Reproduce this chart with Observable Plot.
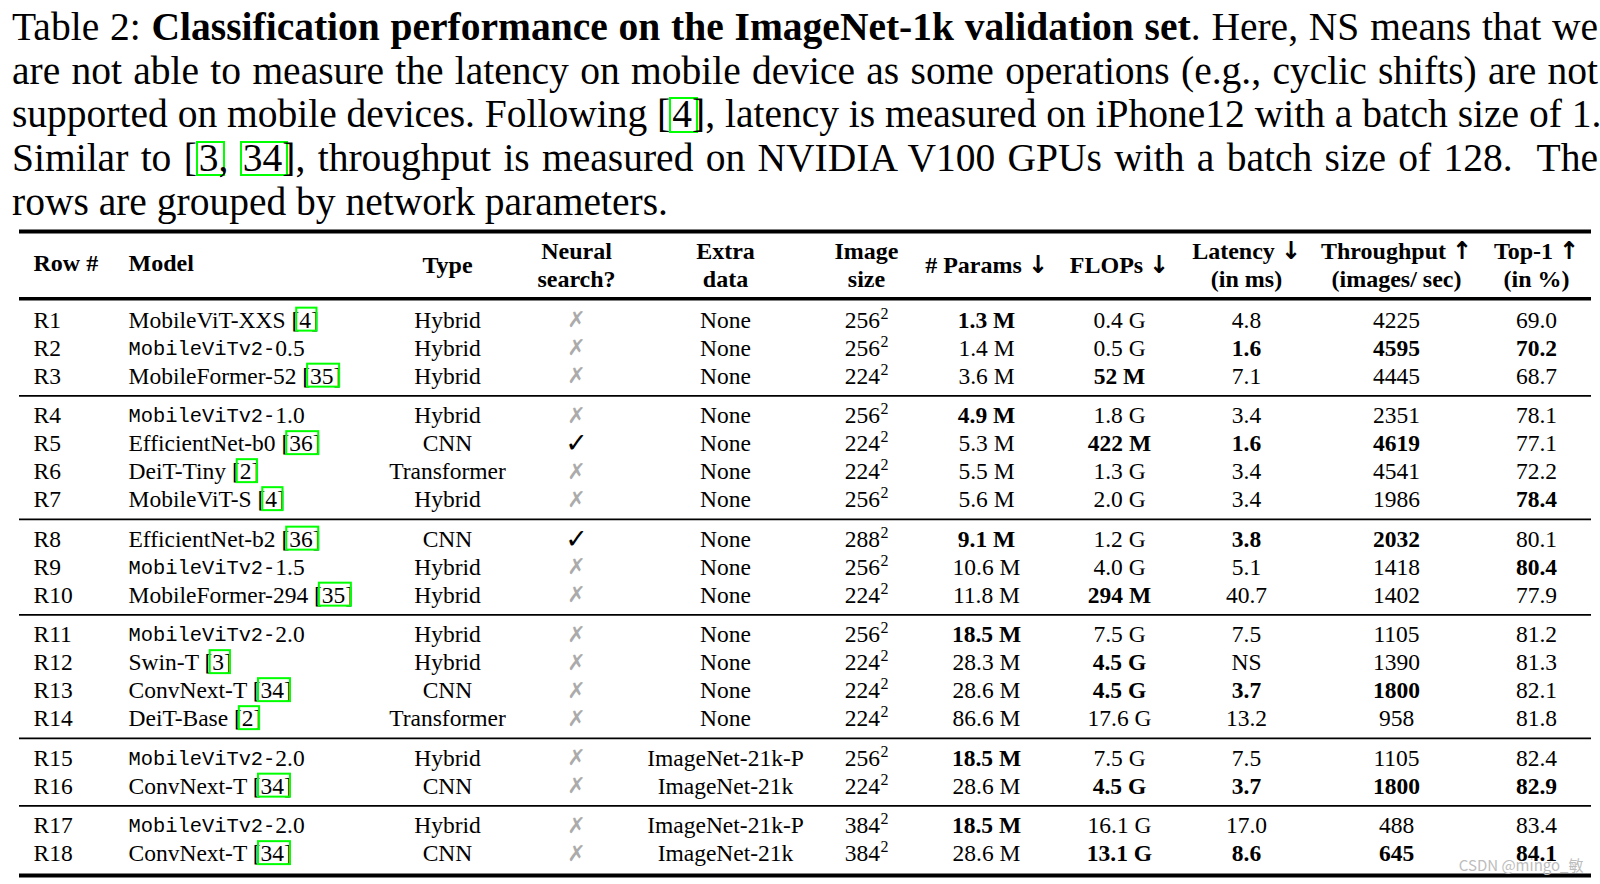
<!DOCTYPE html>
<html><head><meta charset="utf-8">
<script src="https://cdn.jsdelivr.net/npm/d3@7"></script>
<script src="https://cdn.jsdelivr.net/npm/@observablehq/plot@0.6"></script>
<style>
@font-face{font-family:"HdrArrows";src:local("DejaVu Sans Bold"),local("DejaVuSans-Bold");font-weight:100 900;unicode-range:U+2190-21FF;}
html,body{margin:0;padding:0;background:#fff;}
#caption{height:222px;padding-top:6px;padding-left:12px;box-sizing:border-box;font-family:"Liberation Serif","Times New Roman",serif;font-size:39.5px;line-height:43.7px;color:#000;}
.line{width:1586px;white-space:nowrap;text-align:justify;text-align-last:justify;}
.line.last{text-align-last:left;}
.cite{display:inline-block;line-height:33.3px;outline:2.5px solid #00ff00;outline-offset:-1.25px;padding:0 5px 0 2px;margin-right:-5px;}
#chart svg{display:block;}
</style></head>
<body>
<div id="caption">
<div class="line">Table 2: <b>Classification performance on the ImageNet-1k validation set</b>. Here, NS means that we</div>
<div class="line">are not able to measure the latency on mobile device as some operations (e.g., cyclic shifts) are not</div>
<div class="line">supported on mobile devices. Following [<span class="cite">4</span>], latency is measured on iPhone12 with a batch size of 1.</div>
<div class="line">Similar to [<span class="cite">3</span>, <span class="cite">34</span>], throughput is measured on NVIDIA V100 GPUs with a batch size of 128.&nbsp; The</div>
<div class="line last">rows are grouped by network parameters.</div>
</div>
<div id="chart"></div>
<script>
// ---------- data ----------
const rowIds = ["R1","R2","R3","R4","R5","R6","R7","R8","R9","R10","R11","R12","R13","R14","R15","R16","R17","R18"];
const groups = [0,0,0,1,1,1,1,2,2,2,3,3,3,3,4,4,5,5];
const models = ["MobileViT-XXS [4]","MobileViTv2-0.5","MobileFormer-52 [35]","MobileViTv2-1.0","EfficientNet-b0 [36]","DeiT-Tiny [2]","MobileViT-S [4]","EfficientNet-b2 [36]","MobileViTv2-1.5","MobileFormer-294 [35]","MobileViTv2-2.0","Swin-T [3]","ConvNext-T [34]","DeiT-Base [2]","MobileViTv2-2.0","ConvNext-T [34]","MobileViTv2-2.0","ConvNext-T [34]"];
const types = ["Hybrid","Hybrid","Hybrid","Hybrid","CNN","Transformer","Hybrid","CNN","Hybrid","Hybrid","Hybrid","Hybrid","CNN","Transformer","Hybrid","CNN","Hybrid","CNN"];
const neuralSearch = [0,0,0,0,1,0,0,1,0,0,0,0,0,0,0,0,0,0];
const extraData = ["None","None","None","None","None","None","None","None","None","None","None","None","None","None","ImageNet-21k-P","ImageNet-21k","ImageNet-21k-P","ImageNet-21k"];
const imageSizes = [256,256,224,256,224,224,256,288,256,224,256,224,224,224,256,224,384,384];
const params = ["1.3 M","1.4 M","3.6 M","4.9 M","5.3 M","5.5 M","5.6 M","9.1 M","10.6 M","11.8 M","18.5 M","28.3 M","28.6 M","86.6 M","18.5 M","28.6 M","18.5 M","28.6 M"];
const paramsBold = [1,0,0,1,0,0,0,1,0,0,1,0,0,0,1,0,1,0];
const flops = ["0.4 G","0.5 G","52 M","1.8 G","422 M","1.3 G","2.0 G","1.2 G","4.0 G","294 M","7.5 G","4.5 G","4.5 G","17.6 G","7.5 G","4.5 G","16.1 G","13.1 G"];
const flopsBold = [0,0,1,0,1,0,0,0,0,1,0,1,1,0,0,1,0,1];
const latency = ["4.8","1.6","7.1","3.4","1.6","3.4","3.4","3.8","5.1","40.7","7.5","NS","3.7","13.2","7.5","3.7","17.0","8.6"];
const latencyBold = [0,1,0,0,1,0,0,1,0,0,0,0,1,0,0,1,0,1];
const throughput = [4225,4595,4445,2351,4619,4541,1986,2032,1418,1402,1105,1390,1800,958,1105,1800,488,645];
const throughputBold = [0,1,0,0,1,0,0,1,0,0,0,0,1,0,0,1,0,1];
const top1 = ["69.0","70.2","68.7","78.1","77.1","72.2","78.4","80.1","80.4","77.9","81.2","81.3","82.1","81.8","82.4","82.9","83.4","84.1"];
const top1Bold = [0,1,0,0,0,0,1,0,1,0,0,0,0,0,0,1,0,1];
const headers = ["Row #","Model","Type","Neural\nsearch?","Extra\ndata","Image\nsize","# Params \u2193","FLOPs \u2193","Latency \u2193\n(in ms)","Throughput \u2191\n(images/ sec)","Top-1 \u2191\n(in %)"];
const monoPrefix = "MobileViTv2-";
const watermark = "CSDN @mingo_\u654f";

// ---------- layout / style ----------
const colX = [33,128,447,576,725,866,986,1119,1246,1396,1536];
const GAP = 0.41;
const SERIF = '"Liberation Serif","Times New Roman",serif';
const HSERIF = '"HdrArrows","Liberation Serif","Times New Roman",serif';
const MONO = '"Liberation Mono",monospace';
const FS = 23.5, MS = 20.4, HS = 24;

const ctx = document.createElement("canvas").getContext("2d");
const tw = (s, font) => { ctx.font = font; return ctx.measureText(s).width; };
const serifFont = `${FS}px ${SERIF}`;
const monoW = tw(monoPrefix, `${MS}px ${MONO}`);

const rows = rowIds.map((id, i) => {
  const m = models[i];
  const mono = m.startsWith(monoPrefix);
  const cm = m.match(/\[(\d+)\]$/);
  const r = {i, id, slot: i + groups[i] * GAP, model: m, mono,
    suffix: mono ? m.slice(monoPrefix.length) : null,
    type: types[i], ns: neuralSearch[i], extra: extraData[i],
    img: String(imageSizes[i])};
  if (cm) {
    const pre = m.slice(0, m.lastIndexOf("[") + 1);
    r.citeL = tw(pre, serifFont);
    r.citeW = tw(cm[1], serifFont);
  }
  return r;
});
const lastSlot = rows[rows.length - 1].slot;
const groupRules = [];
for (let k = 1; k < rows.length; k++) if (groups[k] !== groups[k - 1]) groupRules.push((rows[k - 1].slot + rows[k].slot) / 2);

const HEADER_SLOT = -2.014, TOP_RULE = -3.17, HEAD_RULE = -0.764, BOTTOM_OFF = 0.78;

const numCols = [
  {col: 6, vals: params, bold: paramsBold},
  {col: 7, vals: flops, bold: flopsBold},
  {col: 8, vals: latency, bold: latencyBold},
  {col: 9, vals: throughput, bold: throughputBold},
  {col: 10, vals: top1, bold: top1Bold}
];
// column index -> horizontal position (identity x scale)
const cx = (col) => colX[col];

const cellText = (data, col, text, opts = {}) => Plot.text(data, {x: () => cx(col), y: "slot", text, fontFamily: SERIF, fontSize: FS, fill: "#000", ...opts});

const headerData = headers.map((label, i) => ({label, i}));

const marks = [
  Plot.ruleY([TOP_RULE], {stroke: "#000", strokeWidth: 4}),
  Plot.ruleY([HEAD_RULE], {stroke: "#000", strokeWidth: 3.5}),
  Plot.ruleY(groupRules, {stroke: "#000", strokeWidth: 1.7}),
  Plot.ruleY([lastSlot + BOTTOM_OFF], {stroke: "#000", strokeWidth: 4}),
  // headers
  Plot.text(headerData.filter(d => d.i < 2), {x: d => cx(d.i), y: () => HEADER_SLOT, text: "label", textAnchor: "start", fontFamily: HSERIF, fontWeight: "bold", fontSize: HS, fill: "#000"}),
  Plot.text(headerData.filter(d => d.i >= 2), {x: d => cx(d.i), y: () => HEADER_SLOT, text: "label", textAnchor: "middle", lineHeight: 1.154, fontFamily: HSERIF, fontWeight: "bold", fontSize: HS, fill: "#000"}),
  // row ids
  cellText(rows, 0, "id", {textAnchor: "start"}),
  // model names
  cellText(rows.filter(d => !d.mono), 1, "model", {textAnchor: "start"}),
  Plot.text(rows.filter(d => d.mono), {x: () => cx(1), y: "slot", text: () => monoPrefix, textAnchor: "start", fontFamily: MONO, fontSize: MS, fill: "#000"}),
  cellText(rows.filter(d => d.mono), 1, "suffix", {textAnchor: "start", dx: monoW}),
  // citation boxes
  ...rows.filter(d => d.citeL !== undefined).map(d => Plot.rect([d], {
    x1: () => cx(1), x2: () => cx(1), y1: r => r.slot - 0.43, y2: r => r.slot + 0.39,
    insetLeft: d.citeL - 2.5, insetRight: -(d.citeL + d.citeW + 6),
    fill: "none", stroke: "#00ff00", strokeWidth: 2
  })),
  // type
  cellText(rows, 2, "type"),
  // neural search
  Plot.text(rows.filter(d => !d.ns), {x: () => cx(3), y: "slot", text: () => "\u2717", fontFamily: "DejaVu Sans", fontSize: 22, fill: "#ababab"}),
  Plot.text(rows.filter(d => d.ns), {x: () => cx(3), y: "slot", text: () => "\u2713", fontFamily: "DejaVu Sans", fontSize: 27, fill: "#000"}),
  // extra data
  cellText(rows, 4, "extra"),
  // image size with superscript 2
  cellText(rows, 5, "img", {textAnchor: "end", dx: 13.5}),
  Plot.text(rows, {x: () => cx(5), y: "slot", text: () => "2", textAnchor: "start", dx: 14, dy: -6.5, fontFamily: SERIF, fontSize: 16, fill: "#000"}),
  // numeric columns
  ...numCols.flatMap(c => [
    cellText(rows.filter(d => !c.bold[d.i]), c.col, d => String(c.vals[d.i])),
    cellText(rows.filter(d => c.bold[d.i]), c.col, d => String(c.vals[d.i]), {fontWeight: "bold"})
  ]),
  // watermark
  Plot.text([watermark], {frameAnchor: "bottom-right", textAnchor: "end", lineAnchor: "middle", dx: -8, dy: -18, fontFamily: '"Noto Sans CJK SC","Noto Sans",sans-serif', fontSize: 15, fill: "#bdbdbd"})
];

const chart = Plot.plot({
  width: 1600, height: 662,
  marginLeft: 19, marginRight: 9, marginTop: 0, marginBottom: 0,
  x: {type: "identity"},
  y: {domain: [0, lastSlot], range: [97.7, 631.2], axis: null},
  style: {background: "#fff", color: "#000", fontFamily: SERIF},
  marks
});
document.getElementById("chart").appendChild(chart);
</script>
</body></html>
